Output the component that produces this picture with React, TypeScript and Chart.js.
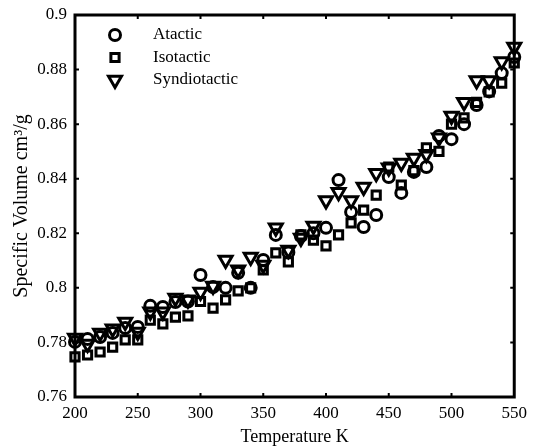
import React, { useEffect, useRef } from 'react';
import { Chart, registerables } from 'chart.js';
import { drawPoint } from 'chart.js/helpers';

Chart.register(...registerables);

const temperatures = [200, 210, 220, 230, 240, 250, 260, 270, 280, 290, 300, 310, 320, 330, 340, 350, 360, 370, 380, 390, 400, 410, 420, 430, 440, 450, 460, 470, 480, 490, 500, 510, 520, 530, 540, 550];

const atactic = [0.7802, 0.7813, 0.782, 0.7835, 0.7853, 0.7857, 0.7934, 0.793, 0.7948, 0.795, 0.8047, 0.8003, 0.8, 0.8055, 0.8, 0.8102, 0.8194, 0.813, 0.819, 0.82, 0.822, 0.8395, 0.8278, 0.8223, 0.8267, 0.8406, 0.8348, 0.8425, 0.8443, 0.8557, 0.8545, 0.86, 0.867, 0.872, 0.8787, 0.8846];

const isotactic = [0.7747, 0.7754, 0.7765, 0.7783, 0.7809, 0.7809, 0.7882, 0.7868, 0.7893, 0.7897, 0.795, 0.7926, 0.7956, 0.7989, 0.8, 0.8066, 0.8128, 0.8095, 0.8194, 0.8175, 0.8154, 0.8194, 0.8238, 0.8285, 0.834, 0.8443, 0.8377, 0.843, 0.8513, 0.85, 0.86, 0.8623, 0.868, 0.8718, 0.875, 0.8824];

const syndiotactic = [0.7816, 0.7794, 0.7835, 0.785, 0.7875, 0.7838, 0.7912, 0.7912, 0.7963, 0.7956, 0.7985, 0.8007, 0.8102, 0.8066, 0.8113, 0.8084, 0.822, 0.8139, 0.8183, 0.8227, 0.832, 0.835, 0.832, 0.837, 0.842, 0.844, 0.8458, 0.8476, 0.849, 0.855, 0.863, 0.868, 0.876, 0.876, 0.883, 0.8883];

const seriesNames = ['Atactic', 'Isotactic', 'Syndiotactic'];
const xTicks = [200, 250, 300, 350, 400, 450, 500, 550];
const yTicks = [0.76, 0.78, 0.8, 0.82, 0.84, 0.86, 0.88, 0.9];
const yTickLabels = ['0.76', '0.78', '0.8', '0.82', '0.84', '0.86', '0.88', '0.9'];
const xTitle = 'Temperature K';
const yTitle = 'Specific Volume cm\u00B3/g';

const FONT = 'Liberation Serif';

const markerStyles = [
  { pointStyle: 'circle', radius: 5.5, rotation: 0 },
  { pointStyle: 'rect', radius: 5.8, rotation: 0 },
  { pointStyle: 'triangle', radius: 7.5, rotation: 180 },
];
const MARKER_WIDTH = 3;

const boxPlugin = {
  id: 'boxAndTicks',
  afterDraw(chart: any) {
    const { ctx, chartArea, scales } = chart;
    const { left, right, top, bottom } = chartArea;
    ctx.save();
    ctx.strokeStyle = '#000';
    ctx.lineWidth = 3;
    ctx.strokeRect(left, top, right - left, bottom - top);
    ctx.lineWidth = 2;
    const tl = 4;
    xTicks.forEach((v) => {
      const px = scales.x.getPixelForValue(v);
      if (px <= left + 2 || px >= right - 2) return;
      ctx.beginPath();
      ctx.moveTo(px, bottom);
      ctx.lineTo(px, bottom - tl);
      ctx.moveTo(px, top);
      ctx.lineTo(px, top + tl);
      ctx.stroke();
    });
    yTicks.forEach((v) => {
      const py = scales.y.getPixelForValue(v);
      if (py <= top + 2 || py >= bottom - 2) return;
      ctx.beginPath();
      ctx.moveTo(left, py);
      ctx.lineTo(left + tl, py);
      ctx.moveTo(right, py);
      ctx.lineTo(right - tl, py);
      ctx.stroke();
    });
    // legend
    const lx = left + 40;
    const ty = top + 20;
    const dy = 22.5;
    seriesNames.forEach((name, i) => {
      const y = ty + i * dy;
      ctx.strokeStyle = '#000';
      ctx.fillStyle = 'rgba(0,0,0,0)';
      ctx.lineWidth = MARKER_WIDTH;
      drawPoint(ctx, { ...markerStyles[i], borderWidth: MARKER_WIDTH } as any, lx, y);
      ctx.fillStyle = '#000';
      ctx.font = `17px "${FONT}"`;
      ctx.textAlign = 'left';
      ctx.textBaseline = 'middle';
      ctx.fillText(name, left + 78, y);
    });
    ctx.restore();
  },
};

export default function App() {
  const ref = useRef<HTMLCanvasElement | null>(null);

  useEffect(() => {
    document.body.style.margin = '0';
    const canvas = ref.current;
    if (!canvas) return;
    const seriesValues = [atactic, isotactic, syndiotactic];
    const chart = new Chart(canvas, {
      type: 'scatter',
      data: {
        datasets: seriesValues.map((vals, i) => ({
          label: seriesNames[i],
          data: temperatures.map((t, j) => ({ x: t, y: vals[j] })),
          pointStyle: markerStyles[i].pointStyle as any,
          pointRadius: markerStyles[i].radius,
          pointRotation: markerStyles[i].rotation,
          pointBorderWidth: MARKER_WIDTH,
          pointBorderColor: '#000',
          pointBackgroundColor: 'rgba(0,0,0,0)',
          borderColor: '#000',
          backgroundColor: 'rgba(0,0,0,0)',
          showLine: false,
          clip: false as any,
        })),
      },
      options: {
        animation: false,
        responsive: false,
        devicePixelRatio: 1,
        layout: { padding: { left: 0, right: 17, top: 15, bottom: 0 } },
        plugins: {
          legend: { display: false },
          tooltip: { enabled: false },
        },
        scales: {
          x: {
            type: 'linear',
            min: 200,
            max: 550,
            grid: { display: false, drawTicks: false, tickLength: 0 },
            border: { display: false },
            afterBuildTicks: (scale: any) => {
              scale.ticks = xTicks.map((v) => ({ value: v }));
            },
            afterFit: (scale: any) => {
              scale.height = 49;
            },
            ticks: {
              color: '#000',
              font: { family: FONT, size: 17 },
              padding: 6,
              maxRotation: 0,
              callback: (v: any) => String(v),
            },
            title: {
              display: true,
              text: xTitle,
              color: '#000',
              font: { family: FONT, size: 18, lineHeight: 1 },
              padding: { top: 0, bottom: 0 },
            },
          },
          y: {
            type: 'linear',
            min: 0.76,
            max: 0.9,
            grid: { display: false, drawTicks: false, tickLength: 0 },
            border: { display: false },
            afterBuildTicks: (scale: any) => {
              scale.ticks = yTicks.map((v) => ({ value: v }));
            },
            afterFit: (scale: any) => {
              scale.width = 75;
            },
            ticks: {
              color: '#000',
              font: { family: FONT, size: 17, lineHeight: 0.8 },
              padding: 8,
              callback: (v: any) => {
                const idx = yTicks.findIndex((t) => Math.abs(t - v) < 1e-9);
                return idx >= 0 ? yTickLabels[idx] : '';
              },
            },
            title: {
              display: true,
              text: yTitle,
              color: '#000',
              font: { family: FONT, size: 20, lineHeight: 1 },
              padding: { top: 12, bottom: 0 },
            },
          },
        },
      },
      plugins: [boxPlugin],
    });
    return () => chart.destroy();
  }, []);

  return (
    <div style={{ width: 533, height: 446 }}>
      <canvas ref={ref} width={533} height={446} />
    </div>
  );
}
